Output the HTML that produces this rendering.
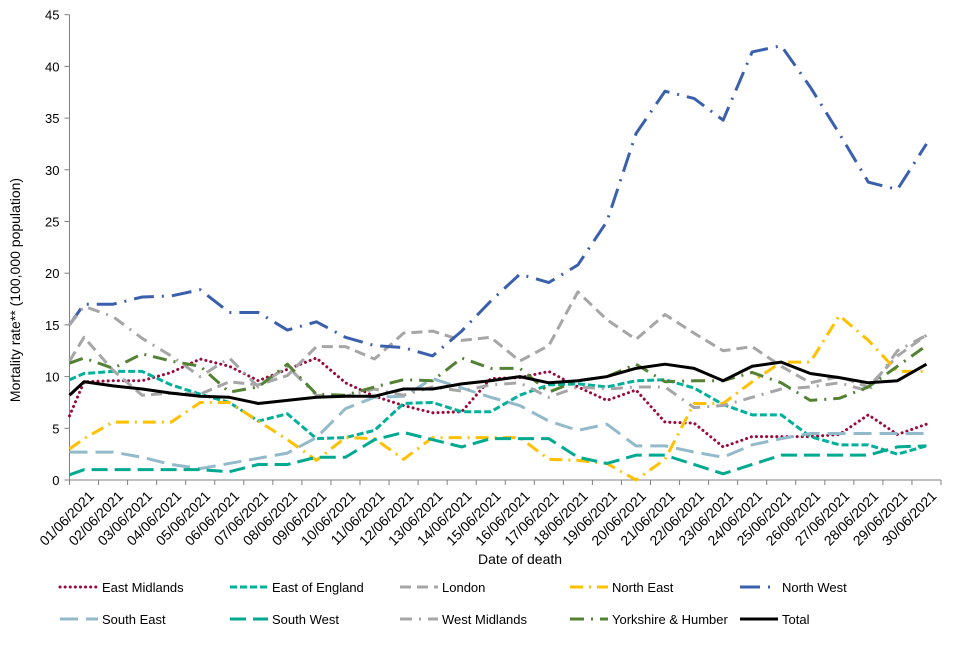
<!DOCTYPE html>
<html><head><meta charset="utf-8"><style>
body{margin:0;background:#fff;font-family:"Liberation Sans",Arial,sans-serif}
svg text{font-family:"Liberation Sans",Arial,sans-serif}
</style></head><body>
<svg id="chart" width="960" height="640" xmlns="http://www.w3.org/2000/svg"></svg>
<script>
const categories = ["01/06/2021","02/06/2021","03/06/2021","04/06/2021","05/06/2021","06/06/2021","07/06/2021","08/06/2021","09/06/2021","10/06/2021","11/06/2021","12/06/2021","13/06/2021","14/06/2021","15/06/2021","16/06/2021","17/06/2021","18/06/2021","19/06/2021","20/06/2021","21/06/2021","22/06/2021","23/06/2021","24/06/2021","25/06/2021","26/06/2021","27/06/2021","28/06/2021","29/06/2021","30/06/2021"];
const yTicks = [0,5,10,15,20,25,30,35,40,45];
const seriesNames = ["East Midlands","East of England","London","North East","North West","South East","South West","West Midlands","Yorkshire & Humber","Total"];
const startValues = [6.2,9.7,11.5,3.0,15.0,2.7,0.5,15.0,11.3,8.2];
const eastMidlands = [9.5,9.6,9.6,10.4,11.7,11.0,9.6,10.7,11.8,9.4,8.1,7.2,6.5,6.6,9.8,9.9,10.5,9.0,7.7,8.7,5.6,5.5,3.2,4.2,4.2,4.2,4.4,6.3,4.4,5.4];
const eastOfEngland = [10.3,10.5,10.5,9.2,8.3,7.5,5.7,6.4,4.0,4.1,4.8,7.4,7.5,6.6,6.6,8.2,9.2,9.3,9.0,9.6,9.7,8.9,7.3,6.3,6.3,4.2,3.4,3.4,2.5,3.3];
const london = [13.8,10.6,8.2,8.4,8.3,9.5,9.2,10.1,12.9,12.9,11.7,14.2,14.4,13.5,13.8,11.5,13.0,18.2,15.5,13.6,16.0,14.2,12.5,12.9,11.0,9.4,10.0,9.0,12.0,14.0];
const northEast = [4.0,5.6,5.6,5.6,7.5,7.5,5.7,3.9,1.9,4.1,4.0,2.0,4.1,4.1,4.1,4.1,2.0,1.9,1.6,0.0,2.0,7.4,7.4,9.5,11.4,11.4,15.9,13.5,10.5,10.5];
const northWest = [17.0,17.0,17.7,17.8,18.4,16.2,16.2,14.5,15.3,13.8,13.0,12.8,12.0,14.4,17.3,19.9,19.1,20.8,25.0,33.5,37.6,36.9,34.8,41.4,42.0,38.0,33.5,28.8,28.1,32.5];
const southEast = [2.7,2.7,2.2,1.5,1.1,1.6,2.1,2.6,4.1,6.9,8.0,8.1,9.8,8.9,8.0,7.2,5.7,4.8,5.4,3.3,3.3,2.7,2.2,3.4,4.0,4.5,4.5,4.5,4.5,4.5];
const southWest = [1.0,1.0,1.0,1.0,1.0,0.8,1.5,1.5,2.2,2.2,3.9,4.6,3.9,3.2,4.0,4.0,4.0,2.2,1.6,2.4,2.4,1.5,0.6,1.5,2.4,2.4,2.4,2.4,3.2,3.3];
const westMidlands = [16.8,15.8,13.7,12.0,10.0,11.8,9.0,11.0,8.2,8.1,8.8,8.2,9.0,8.6,9.2,9.4,8.0,9.0,8.8,9.0,9.0,7.0,7.2,8.0,8.8,9.0,9.4,8.6,12.5,14.0];
const yorkshire = [11.8,10.8,12.2,11.5,11.0,8.5,9.0,11.2,8.3,8.2,9.0,9.7,9.6,11.8,10.8,10.8,8.5,9.6,10.0,11.2,9.5,9.6,9.6,10.4,9.4,7.7,7.9,9.0,11.0,13.0];
const total = [9.5,9.1,8.8,8.4,8.1,8.0,7.4,7.7,8.0,8.1,8.1,8.8,8.8,9.3,9.6,10.0,9.4,9.6,10.0,10.8,11.2,10.8,9.6,11.0,11.4,10.3,9.9,9.4,9.6,11.2];

const seriesData=[eastMidlands,eastOfEngland,london,northEast,northWest,southEast,southWest,westMidlands,yorkshire,total];
const styles=[
 {c:"#9b0a3c",w:3,d:"0.1 5",cap:"round"},
 {c:"#00b09a",w:3,d:"7 3"},
 {c:"#a6a6a6",w:3,d:"11 6"},
 {c:"#ffc000",w:3,d:"13 6 2 6"},
 {c:"#3a5fad",w:3,d:"20 8 2 8"},
 {c:"#93bacb",w:3,d:"18 8"},
 {c:"#00a98f",w:3,d:"16 7"},
 {c:"#a6a6a6",w:3,d:"12 7 2 7"},
 {c:"#548235",w:3,d:"14 7 2 7"},
 {c:"#000000",w:3,d:""}];
const NS="http://www.w3.org/2000/svg";
const svg=document.getElementById('chart');
const X0=69.5,X1=941,Y0=480,YTOP=14.7,YMAX=45;
const step=(X1-X0)/categories.length;
function xScale(i){return X0+step*(i+0.5);}
function yScale(v){return Y0-(Y0-YTOP)*v/YMAX;}
function mk(t,a,p){const e=document.createElementNS(NS,t);for(const k in a)e.setAttribute(k,a[k]);(p||svg).appendChild(e);return e;}
let ya=mk('line',{x1:X0,y1:YTOP,x2:X0,y2:Y0,stroke:'#808080','stroke-width':1});


let xa=mk('line',{x1:X0,y1:Y0,x2:X1,y2:Y0,stroke:'#808080','stroke-width':1});


yTicks.forEach(v=>{
 const y=yScale(v);
 mk('line',{x1:X0-5,y1:y,x2:X0,y2:y,stroke:'#808080'});
 const t=mk('text',{x:X0-10,y:y+5,'text-anchor':'end','font-size':13,fill:'#000'});
 t.textContent=v;
 
 
});
for(let i=0;i<=categories.length;i++){const x=X0+step*i;mk('line',{x1:x,y1:Y0,x2:x,y2:Y0+5,stroke:'#808080'});}
categories.forEach((c,i)=>{
 const x=xScale(i)+4,y=Y0+10;
 const t=mk('text',{x:x,y:y,'text-anchor':'end','font-size':14,transform:`rotate(-45 ${x} ${y})`,dy:'0.7em'});
 t.textContent=c;
 
 
});
let yt=mk('text',{x:20,y:290,'text-anchor':'middle','font-size':14,transform:'rotate(-90 20 290)'});
yt.textContent='Mortality rate** (100,000 population)';


let xt=mk('text',{x:520,y:564,'text-anchor':'middle','font-size':14});
xt.textContent='Date of death';


seriesData.forEach((d,s)=>{
 const st=styles[s];
 let pts=[[X0,yScale(startValues[s])]];
 d.forEach((v,i)=>pts.push([xScale(i),yScale(v)]));
 const p=mk('polyline',{points:pts.map(p=>p.join(',')).join(' '),fill:'none',stroke:st.c,'stroke-width':st.w,'stroke-dasharray':st.d,'stroke-linecap':st.cap||'butt','stroke-linejoin':'round'});
 
 
});
seriesNames.forEach((n,s)=>{
 const col=s%5,row=Math.floor(s/5);
 const x=60+col*170,y=587+row*32;
 const st=styles[s];
 const g=mk('g',{});
 
 
 mk('line',{x1:x,y1:y,x2:x+38,y2:y,stroke:st.c,'stroke-width':st.w,'stroke-dasharray':st.d,'stroke-linecap':st.cap||'butt'},g);
 const t=mk('text',{x:x+42,y:y+5,'font-size':13},g);
 t.textContent=n;
});
</script>
</body></html>
